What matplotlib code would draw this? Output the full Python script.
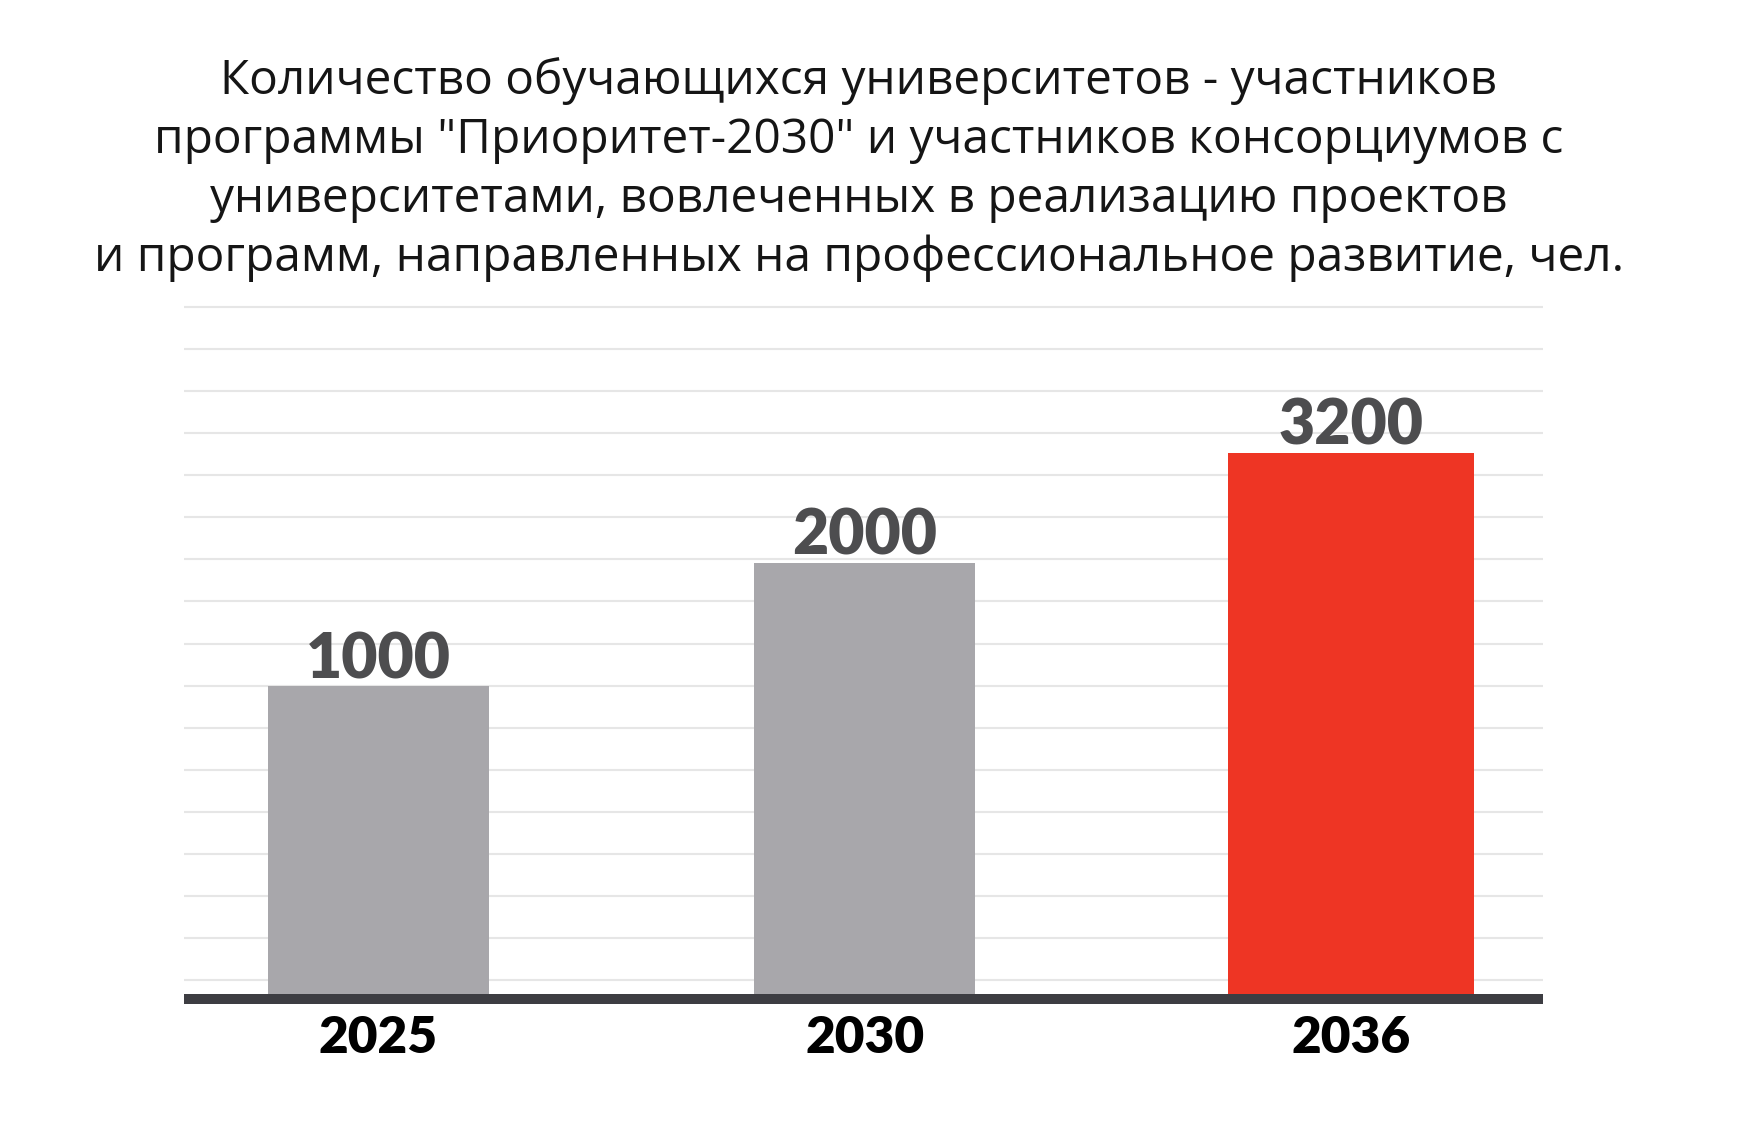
import numpy as np
import matplotlib
matplotlib.use('Agg')
import matplotlib.pyplot as plt
from matplotlib.ticker import FixedLocator, NullFormatter

# ---- data ----
years = ['2025', '2030', '2036']
values = [1000, 2000, 3200]
value_labels = ['1000', '2000', '3200']
title_lines = [
    'Количество обучающихся университетов - участников',
    'программы "Приоритет-2030" и участников консорциумов с',
    'университетами, вовлеченных в реализацию проектов',
    'и программ, направленных на профессиональное развитие, чел.',
]

# ---- style ----
bar_colors = ['#a8a7ab', '#a8a7ab', '#ee3524']
bar_widths = [0.455, 0.455, 0.506]
W, H, DPI = 1750, 1122, 100

fig = plt.figure(figsize=(W / DPI, H / DPI), dpi=DPI)
fig.patch.set_facecolor('white')

# compressed (power) value scale, as in the original infographic
P = 0.48
def fwd(y):
    return np.power(np.clip(y, 0, None), P)
def inv(u):
    return np.power(np.clip(u, 0, None), 1.0 / P)

ax_left, ax_right = 184, 1543
base_px = 999
kpx = 11.35           # pixels per transformed unit
top_u = 62.0
top_px = base_px - top_u * kpx
ax = fig.add_axes([ax_left / W, (H - base_px) / H,
                   (ax_right - ax_left) / W, (base_px - top_px) / H])
ax.set_yscale('function', functions=(fwd, inv))
ax.set_ylim(0, inv(top_u))
ax.set_xlim(-0.4, 2.395)

x = np.arange(len(years))
ax.bar(x, values, width=bar_widths, color=bar_colors, zorder=2)

# horizontal guide lines, evenly spaced on the drawn scale
grid_u = np.linspace(19 / kpx, 692 / kpx, 17)
ax.yaxis.set_major_locator(FixedLocator(inv(grid_u)))
ax.yaxis.set_minor_locator(FixedLocator([]))
ax.yaxis.set_major_formatter(NullFormatter())
ax.grid(axis='y', color='#e6e6e6', linewidth=1.5, zorder=0)
ax.set_axisbelow(True)
ax.tick_params(axis='y', length=0)

for s in ['top', 'left', 'right']:
    ax.spines[s].set_visible(False)
ax.spines['bottom'].set_color('#3d3d42')
ax.spines['bottom'].set_linewidth(7.2)
ax.spines['bottom'].set_capstyle('butt')
ax.spines['bottom'].set_zorder(3)

ax.set_xticks(x, years)
ax.tick_params(axis='x', length=0, pad=54 * 0.72)
for lbl in ax.get_xticklabels():
    lbl.set_fontfamily('Lato')
    lbl.set_fontweight('heavy')
    lbl.set_fontsize(37)
    lbl.set_color('black')
    lbl.set_va('baseline')

for xi, v, t in zip(x, values, value_labels):
    ax.annotate(t, xy=(xi, v), xytext=(0, 8 * 0.72), textcoords='offset points',
                ha='center', va='baseline', fontsize=45, fontweight='heavy',
                family='Lato', color='#4d4d4f')

# title
baseline1 = 94.3
step = 58.8
for i, line in enumerate(title_lines):
    fig.text(859 / W, 1 - (baseline1 + i * step) / H, line, ha='center',
             va='baseline', fontsize=34.4, family='Open Sans', color='#151515')

fig.savefig('out.png', dpi=DPI, facecolor='white')
